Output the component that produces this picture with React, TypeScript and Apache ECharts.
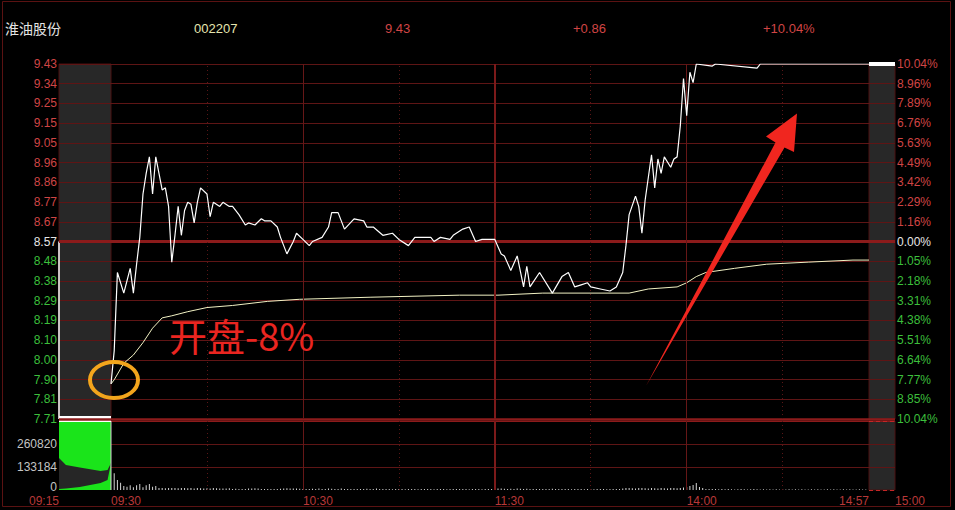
import React, { useEffect, useRef } from "react";
import * as echarts from "echarts";

// ---------- header ----------
const stockName = "淮油股份";
const stockCode = "002207";
const lastPrice = "9.43";
const priceChange = "+0.86";
const pctChange = "+10.04%";
const annotationText = "开盘-8%";

// ---------- axes ----------
const prevClose = 8.57;
const priceMin = 7.71;
const priceMax = 9.43;
const leftPriceLabels = [
  "7.71", "7.81", "7.90", "8.00", "8.10", "8.19", "8.29", "8.38", "8.48", "8.57",
  "8.67", "8.77", "8.86", "8.96", "9.05", "9.15", "9.25", "9.34", "9.43",
];
const rightPctLabels = [
  "10.04%", "8.85%", "7.77%", "6.64%", "5.51%", "4.38%", "3.31%", "2.18%", "1.05%", "0.00%",
  "1.16%", "2.29%", "3.42%", "4.49%", "5.63%", "6.76%", "7.89%", "8.96%", "10.04%",
];
const volumeMax = 391230;
const volumeLabels = ["0", "133184", "260820", ""];
const mainTimeLabels = ["09:30", "10:30", "11:30", "14:00"];
const preTimeLabel = "09:15";
const closeStartLabel = "14:57";
const closeEndLabel = "15:00";
const solidGridTimes = ["10:30", "14:00"];
const lunchGridTime = "11:30";
const dottedGridTimes = ["10:00", "11:00", "13:30", "14:30"];

// ---------- pre-market (09:15-09:30) ----------
const preDropTimes = ["09:15", "09:15"];
const preDropPrices = [8.57, 7.71];
const preMatchTimes = ["09:15", "09:30"];
const preMatchPrices = [7.71, 7.71];
const preVolTimes = ["09:15", "09:17", "09:21", "09:27", "09:29", "09:30"];
const preVolTotal = [181000, 142000, 127000, 108000, 113000, 153000];
const preVolMatched = [6000, 9000, 17000, 40000, 57000, 153000];

// ---------- closing auction (14:57-15:00) ----------
const postTimes = ["14:57", "15:00"];
const postPrices = [9.43, 9.43];

// ---------- intraday price ----------
const priceTimes = [
  "09:30", "09:31", "09:32", "09:34", "09:36", "09:37", "09:38", "09:39", "09:40", "09:41",
  "09:42", "09:43", "09:44", "09:45", "09:46", "09:47", "09:48", "09:49", "09:50", "09:51",
  "09:52", "09:53", "09:54", "09:55", "09:56", "09:57", "09:58", "10:00", "10:01", "10:02",
  "10:04", "10:05", "10:07", "10:08", "10:10", "10:12", "10:13", "10:15", "10:17", "10:18",
  "10:20", "10:22", "10:23", "10:25", "10:27", "10:28", "10:30", "10:32", "10:33", "10:36",
  "10:38", "10:39", "10:41", "10:43", "10:46", "10:49", "10:50", "10:52", "10:55", "10:58",
  "11:00", "11:03", "11:05", "11:10", "11:11", "11:13", "11:16", "11:17", "11:20", "11:22",
  "11:24", "11:26", "11:28", "13:00", "13:02", "13:03", "13:05", "13:07", "13:09", "13:10",
  "13:11", "13:14", "13:18", "13:21", "13:23", "13:25", "13:27", "13:29", "13:30", "13:33",
  "13:36", "13:38", "13:40", "13:41", "13:42", "13:44", "13:45", "13:46", "13:47", "13:48",
  "13:49", "13:50", "13:51", "13:52", "13:53", "13:55", "13:56", "13:57", "13:58", "13:59",
  "14:00", "14:01", "14:02", "14:03", "14:08", "14:09", "14:22", "14:23", "14:57",
];
const priceValues = [
  7.88, 8.04, 8.42, 8.32, 8.44, 8.32, 8.46, 8.59, 8.80, 8.90,
  8.98, 8.80, 8.98, 8.90, 8.82, 8.83, 8.74, 8.47, 8.60, 8.74,
  8.60, 8.72, 8.76, 8.75, 8.66, 8.76, 8.83, 8.80, 8.69, 8.76,
  8.74, 8.76, 8.74, 8.74, 8.70, 8.65, 8.66, 8.65, 8.68, 8.67,
  8.67, 8.64, 8.59, 8.51, 8.57, 8.61, 8.58, 8.55, 8.57, 8.59,
  8.64, 8.71, 8.71, 8.63, 8.68, 8.67, 8.64, 8.64, 8.60, 8.61,
  8.58, 8.55, 8.59, 8.59, 8.57, 8.59, 8.58, 8.60, 8.63, 8.64,
  8.57, 8.58, 8.58, 8.58, 8.51, 8.50, 8.43, 8.50, 8.35, 8.45,
  8.35, 8.42, 8.32, 8.40, 8.42, 8.35, 8.36, 8.37, 8.35, 8.34,
  8.33, 8.35, 8.42, 8.55, 8.70, 8.79, 8.74, 8.61, 8.77, 8.88,
  8.99, 8.83, 8.97, 8.90, 8.98, 8.93, 8.97, 8.98, 9.13, 9.36,
  9.18, 9.39, 9.34, 9.43, 9.42, 9.43, 9.41, 9.43, 9.43,
];

// ---------- average price ----------
const avgTimes = [
  "09:30", "09:31", "09:34", "09:37", "09:40", "09:43", "09:46", "09:49", "09:54", "10:00",
  "10:08", "10:19", "10:29", "10:51", "11:19", "13:01", "13:15", "13:42", "13:48", "13:57",
  "14:00", "14:03", "14:06", "14:15", "14:25", "14:38", "14:52", "14:57",
];
const avgValues = [
  7.88, 7.90, 7.98, 8.02, 8.08, 8.15, 8.20, 8.21, 8.23, 8.25,
  8.26, 8.28, 8.29, 8.30, 8.31, 8.31, 8.32, 8.32, 8.34, 8.35,
  8.37, 8.40, 8.42, 8.44, 8.46, 8.47, 8.48, 8.48,
];

// ---------- per-minute volume from 09:30 ----------
const volumes = [
  391000, 95000, 57000, 41000, 23000, 19000, 27000, 15000, 27000, 34000,
  15000, 27000, 34000, 19000, 23000, 12000, 11000, 10000, 12000, 11000,
  11000, 10000, 11000, 12000, 10000, 11000, 9000, 11000, 10000, 9000,
  10000, 9000, 11000, 10000, 9000, 8000, 9000, 10000, 6000, 7000,
  6000, 5000, 6000, 8000, 9000, 10000, 8000, 6000, 5000, 6000,
  5000, 6000, 5000, 7000, 9000, 10000, 9000, 8000, 9000, 7000,
  6000, 5000, 6000, 7000, 6000, 8000, 5000, 6000, 9000, 7000,
  6000, 5000, 8000, 6000, 5000, 6000, 5000, 6000, 5000, 6000,
  7000, 5000, 6000, 8000, 6000, 5000, 6000, 5000, 4000, 5000,
  6000, 5000, 4000, 5000, 6000, 5000, 4000, 5000, 6000, 5000,
  5000, 4000, 5000, 6000, 5000, 4000, 5000, 5000, 6000, 5000,
  6000, 5000, 4000, 5000, 6000, 5000, 4000, 5000, 6000, 5000,
  9000, 8000, 9000, 7000, 6000, 7000, 6000, 8000, 7000, 6000,
  7000, 6000, 5000, 6000, 5000, 6000, 5000, 6000, 7000, 5000,
  6000, 5000, 6000, 5000, 4000, 5000, 6000, 5000, 4000, 5000,
  5000, 4000, 5000, 6000, 5000, 4000, 5000, 6000, 5000, 6000,
  9000, 11000, 12000, 10000, 9000, 11000, 12000, 10000, 9000, 11000,
  10000, 9000, 11000, 10000, 9000, 12000, 11000, 10000, 12000, 14000,
  17000, 22000, 28000, 40000, 17000, 11000, 6000, 5000, 6000, 5000,
  4000, 5000, 4000, 5000, 4000, 3000, 4000, 5000, 4000, 3000,
  4000, 5000, 4000, 3000, 4000, 3000, 4000, 3000, 4000, 3000,
  4000, 3000, 4000, 3000, 4000, 3000, 4000, 3000, 3000, 4000,
  3000, 4000, 3000, 3000, 4000, 3000, 4000, 3000, 3000, 4000,
  3000, 4000, 3000, 3000, 4000, 3000, 3000,
];

// ---------- helpers ----------
const toMin = (t: string) => {
  const [h, m] = t.split(":").map(Number);
  return h * 60 + m;
};
const tradeSlot = (t: string) => {
  const v = toMin(t);
  return v <= 690 ? v - 570 : 120 + (v - 780);
};
const preSlot = (t: string) => toMin(t) - 555;
const postSlot = (t: string) => toMin(t) - 897;

const FONT = '"Liberation Sans", Arial, sans-serif';
const CJK = '"Noto Sans CJK SC", "Noto Sans", sans-serif';
const RED = "#d04545";
const GREEN = "#3cbf3c";
const WHITE_T = "#e6e6e6";
const GRID = "#5e1515";
const GRID_STRONG = "#8c1b1b";
const TIME_RED = "#b83838";
const GRAY = "#282828";
const VOL_GREEN = "#1ae41a";

function buildOption(): any {
  const priceStep = (priceMax - priceMin) / 18;
  const idxOf = (v: number) => Math.round((v - priceMin) / priceStep);
  const rich = {
    up: { color: RED, fontSize: 12, fontFamily: FONT },
    flat: { color: WHITE_T, fontSize: 12, fontFamily: FONT },
    down: { color: GREEN, fontSize: 12, fontFamily: FONT },
  };
  const styleOf = (i: number) => (i > 9 ? "up" : i === 9 ? "flat" : "down");

  const L = 59, M = 111, P = 869, R = 895;
  const T = 64, PH = 355, VT = 421, VH = 69;
  const mainMax = tradeSlot(closeStartLabel);

  const grid = [
    { left: L, top: T, width: M - L, height: PH, show: true, backgroundColor: GRAY, borderColor: "#4a1010", borderWidth: 1 },
    { left: M, top: T, width: P - M, height: PH, show: false },
    { left: P, top: T, width: R - P, height: PH, show: true, backgroundColor: GRAY, borderColor: "#4a1010", borderWidth: 1 },
    { left: L, top: VT, width: M - L, height: VH, show: true, backgroundColor: VOL_GREEN, borderWidth: 0 },
    { left: M, top: VT, width: P - M, height: VH, show: false },
    { left: P, top: VT, width: R - P, height: VH, show: true, backgroundColor: GRAY, borderColor: "#4a1010", borderWidth: 1 },
  ];

  const hiddenX = (gi: number, max: number) => ({
    type: "value", gridIndex: gi, min: 0, max, show: false,
  });
  const labelX = (gi: number, max: number, values: number[], labels: string[], align: string) => ({
    type: "value",
    gridIndex: gi,
    min: 0,
    max,
    position: "bottom",
    axisLine: { show: false },
    axisTick: { show: false },
    splitLine: { show: false },
    axisLabel: {
      show: true,
      customValues: values,
      margin: 5,
      align,
      color: TIME_RED,
      fontSize: 12,
      lineHeight: 12,
      fontFamily: FONT,
      showMinLabel: true,
      showMaxLabel: true,
      formatter: (v: number) => {
        const k = values.findIndex((x) => Math.abs(x - v) < 1e-6);
        return k >= 0 ? labels[k] : "";
      },
    },
  });

  const xAxis = [
    hiddenX(0, 15),
    hiddenX(1, mainMax),
    hiddenX(2, 3),
    labelX(3, 15, [0], [preTimeLabel], "right"),
    labelX(4, mainMax, mainTimeLabels.map(tradeSlot), mainTimeLabels, "left"),
    labelX(5, 3, [0], [closeStartLabel], "right"),
    labelX(5, 3, [3], [closeEndLabel], "left"),
  ];

  const priceY = (gi: number, side: string | null) => ({
    type: "value",
    gridIndex: gi,
    min: priceMin,
    max: priceMax,
    interval: priceStep,
    position: side || "left",
    axisLine: { show: false },
    axisTick: { show: false },
    splitLine: { show: true, lineStyle: { color: GRID, width: 1 } },
    axisLabel: {
      show: !!side,
      margin: 2,
      showMinLabel: true,
      showMaxLabel: true,
      rich,
      formatter: (v: number) => {
        const i = idxOf(v);
        const arr = side === "right" ? rightPctLabels : leftPriceLabels;
        return arr[i] !== undefined ? `{${styleOf(i)}|${arr[i]}}` : "";
      },
    },
  });
  const volStep = volumeMax / 3;
  const volRich = {
    v: { color: "#c4c4c4", fontSize: 12, fontFamily: FONT, lineHeight: 12 },
    z: { color: "#c4c4c4", fontSize: 12, fontFamily: FONT, lineHeight: 12, padding: [0, 0, 6, 0] },
  };
  const volY = (gi: number, labels: boolean, split: boolean) => ({
    type: "value",
    gridIndex: gi,
    min: 0,
    max: volumeMax,
    interval: volStep,
    position: "left",
    axisLine: { show: false },
    axisTick: { show: false },
    splitLine: {
      show: split,
      lineStyle: { color: ["rgba(0,0,0,0)", GRID, GRID, GRID_STRONG], width: 1 },
    },
    axisLabel: {
      show: labels,
      margin: 2,
      showMinLabel: true,
      showMaxLabel: true,
      rich: volRich,
      formatter: (v: number) => {
        const i = Math.round(v / volStep);
        const s = volumeLabels[i] ?? "";
        if (!s) return "";
        return i === 0 ? `{z|${s}}` : `{v|${s}}`;
      },
    },
  });

  const yAxis = [
    priceY(0, "left"),
    priceY(1, null),
    priceY(2, "right"),
    volY(3, true, false),
    volY(4, false, true),
    volY(5, false, true),
  ];

  const lineSilent = { symbol: "none", silent: true, label: { show: false }, animation: false };
  const hLineSeries = (xi: number, yi: number) => ({
    type: "line",
    xAxisIndex: xi,
    yAxisIndex: yi,
    data: [[0, prevClose]],
    showSymbol: false,
    lineStyle: { opacity: 0 },
    silent: true,
    z: 1,
    markLine: {
      ...lineSilent,
      data: [
        { yAxis: prevClose, lineStyle: { color: GRID_STRONG, width: 3, type: "solid" } },
        { yAxis: priceMin, lineStyle: { color: GRID_STRONG, width: 2.5, type: "solid" } },
      ],
    },
  });
  const vLineSeries = (xi: number, yi: number, y0: number) => ({
    type: "line",
    xAxisIndex: xi,
    yAxisIndex: yi,
    data: [[0, y0]],
    showSymbol: false,
    lineStyle: { opacity: 0 },
    silent: true,
    z: 1,
    markLine: {
      ...lineSilent,
      data: [
        ...solidGridTimes.map((t) => ({
          xAxis: tradeSlot(t),
          lineStyle: { color: "#661717", width: 1, type: "solid" },
        })),
        { xAxis: tradeSlot(lunchGridTime), lineStyle: { color: "#7c1a1a", width: 2, type: "solid" } },
        ...dottedGridTimes.map((t) => ({
          xAxis: tradeSlot(t),
          lineStyle: { color: "#5a1616", width: 1, type: [1, 3] },
        })),
      ],
    },
  });

  const series: any[] = [
    hLineSeries(0, 0),
    hLineSeries(1, 1),
    hLineSeries(2, 2),
    vLineSeries(1, 1, prevClose),
    vLineSeries(4, 4, 0),
    {
      type: "line",
      xAxisIndex: 6,
      yAxisIndex: 5,
      data: [[0, 0]],
      showSymbol: false,
      lineStyle: { opacity: 0 },
      silent: true,
      z: 1,
      markLine: {
        ...lineSilent,
        data: [
          { yAxis: volumeMax, lineStyle: { color: "#c42626", width: 1, type: [4, 3] } },
          { yAxis: 0, lineStyle: { color: "#c42626", width: 1, type: [4, 3] } },
        ],
      },
    },
    // pre-market price
    {
      type: "line",
      xAxisIndex: 0,
      yAxisIndex: 0,
      data: preDropTimes.map((t, i) => [preSlot(t), preDropPrices[i]]),
      showSymbol: false,
      clip: false,
      lineStyle: { color: "#ffffff", width: 1.5 },
      z: 4,
    },
    {
      type: "line",
      xAxisIndex: 0,
      yAxisIndex: 0,
      data: preMatchTimes.map((t, i) => [preSlot(t), preMatchPrices[i]]),
      showSymbol: false,
      clip: true,
      lineStyle: { color: "#ffffff", width: 6 },
      z: 4,
    },
    // closing auction price
    {
      type: "line",
      xAxisIndex: 2,
      yAxisIndex: 2,
      data: postTimes.map((t, i) => [postSlot(t), postPrices[i]]),
      showSymbol: false,
      clip: false,
      lineStyle: { color: "#ffffff", width: 4 },
      z: 4,
    },
    // average price
    {
      type: "line",
      xAxisIndex: 1,
      yAxisIndex: 1,
      data: avgTimes.map((t, i) => [tradeSlot(t), avgValues[i]]),
      showSymbol: false,
      lineStyle: { color: "#f2f2c4", width: 1 },
      z: 4,
    },
    // price
    {
      type: "line",
      xAxisIndex: 1,
      yAxisIndex: 1,
      data: priceTimes.map((t, i) => [tradeSlot(t), priceValues[i]]),
      showSymbol: false,
      lineStyle: { color: "#ffffff", width: 1.2 },
      z: 5,
    },
    // pre-market volume
    {
      type: "line",
      xAxisIndex: 3,
      yAxisIndex: 3,
      data: preVolTimes.map((t, i) => [preSlot(t), preVolTotal[i]]),
      showSymbol: false,
      lineStyle: { width: 0 },
      areaStyle: { color: "#262626", opacity: 1 },
      z: 3,
    },
    {
      type: "line",
      xAxisIndex: 3,
      yAxisIndex: 3,
      data: preVolTimes.map((t, i) => [preSlot(t), preVolMatched[i]]),
      showSymbol: false,
      lineStyle: { width: 0 },
      areaStyle: { color: VOL_GREEN, opacity: 1 },
      z: 4,
    },
    // intraday volume
    {
      type: "bar",
      xAxisIndex: 4,
      yAxisIndex: 4,
      data: volumes.map((v, i) => [i, v]),
      barWidth: 1,
      itemStyle: { color: "#d4d4d4" },
      z: 4,
    },
  ];

  const headerY = 28;
  const graphic = [
    {
      type: "rect",
      shape: { x: 2.5, y: 1.5, width: 948, height: 505 },
      style: { fill: "none", stroke: "#5a1212", lineWidth: 1 },
      z: 0,
      silent: true,
    },
    { type: "text", x: 5, y: headerY, style: { text: stockName, fill: "#e4e4e4", font: `14px ${CJK}`, verticalAlign: "middle" }, z: 10 },
    { type: "text", x: 194, y: headerY, style: { text: stockCode, fill: "#e6e6b0", font: `13px ${FONT}`, verticalAlign: "middle" }, z: 10 },
    { type: "text", x: 385, y: headerY, style: { text: lastPrice, fill: RED, font: `13px ${FONT}`, verticalAlign: "middle" }, z: 10 },
    { type: "text", x: 573, y: headerY, style: { text: priceChange, fill: RED, font: `13px ${FONT}`, verticalAlign: "middle" }, z: 10 },
    { type: "text", x: 763, y: headerY, style: { text: pctChange, fill: RED, font: `13px ${FONT}`, verticalAlign: "middle" }, z: 10 },
    {
      type: "text",
      x: 169,
      y: 334,
      style: { text: annotationText, fill: "#ea2520", font: `38px ${CJK}`, verticalAlign: "middle" },
      z: 20,
    },
    {
      type: "ellipse",
      shape: { cx: 114, cy: 380, rx: 24, ry: 18 },
      style: { fill: "none", stroke: "#f3a51c", lineWidth: 4 },
      z: 20,
    },
    {
      type: "polygon",
      shape: {
        points: [
          [646, 386],
          [775.5, 142.5],
          [766, 136.5],
          [797, 113.5],
          [794, 152],
          [784.5, 147.5],
        ],
      },
      style: { fill: "#f0261f" },
      z: 20,
    },
  ];

  return {
    animation: false,
    backgroundColor: "#000000",
    grid,
    xAxis,
    yAxis,
    series,
    graphic,
  };
}

export default function App() {
  const ref = useRef<HTMLDivElement>(null);
  useEffect(() => {
    if (!ref.current) return;
    const chart = echarts.init(ref.current, null, { renderer: "svg" });
    chart.setOption(buildOption());
    return () => chart.dispose();
  }, []);
  return (
    <div
      ref={ref}
      style={{ position: "fixed", left: 0, top: 0, width: 955, height: 510, background: "#000" }}
    />
  );
}
